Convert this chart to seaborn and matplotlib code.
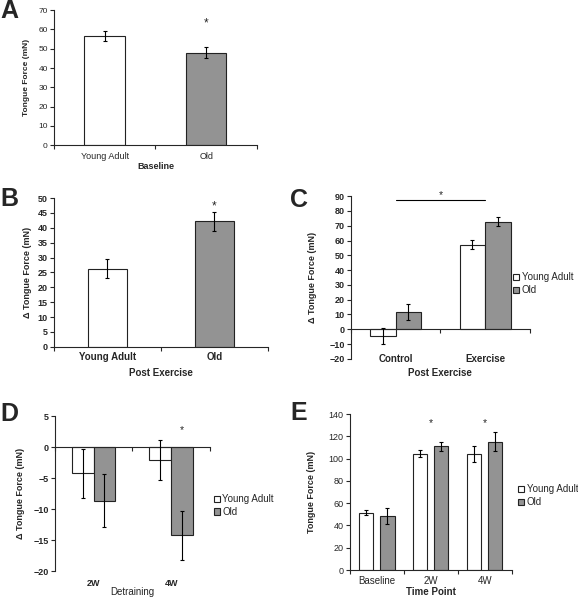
import matplotlib
matplotlib.use("Agg")
import matplotlib.pyplot as plt
import numpy as np
import pandas as pd
import seaborn as sns

# data
groups = ["Young Adult", "Old"]

base_force = [56.5, 48.0]
base_err = [2.7, 2.8]

post_delta = [26.3, 42.2]
post_err = [3.1, 3.2]

cond_cats = ["Control", "Exercise"]
cond_young = [-4.5, 57.3]
cond_old = [11.5, 72.7]
cond_young_err = [5.5, 3.0]
cond_old_err = [5.5, 3.0]

detr_cats = ["2W", "4W"]
detr_young = [-4.2, -2.0]
detr_old = [-8.6, -14.2]
detr_young_err = [4.0, 3.2]
detr_old_err = [4.3, 4.0]

time_cats = ["Baseline", "2W", "4W"]
time_young = [51.5, 104.5, 104.0]
time_old = [48.5, 111.0, 115.0]
time_young_err = [2.5, 3.0, 7.0]
time_old_err = [7.0, 4.0, 8.5]

sns.set_style("ticks")
plt.rcParams["font.family"] = ["Liberation Sans", "DejaVu Sans"]
plt.rcParams["axes.linewidth"] = 0.8

pal = {"Young Adult": "white", "Old": "#939393"}
EDGE = "#222222"


def long_df(cats, young, old):
    return pd.DataFrame({
        "cat": list(cats) * 2,
        "group": ["Young Adult"] * len(cats) + ["Old"] * len(cats),
        "val": list(young) + list(old),
    })


def add_err(ax, errs):
    for bar, e in zip(ax.patches, errs):
        x = bar.get_x() + bar.get_width() / 2
        y = bar.get_y() + bar.get_height()
        ax.errorbar(x, y, yerr=e, color="black", lw=0.8, capsize=1.5,
                    capthick=0.8, zorder=5)


def excel_axis(ax, n, labels=True, fs=6, weight="normal", pad=5):
    sns.despine(ax=ax)
    ax.set_xlim(-0.5, n - 0.5)
    ax.set_xticks(np.arange(n + 1) - 0.5)
    ax.set_xticklabels([])
    ax.tick_params(axis="x", which="major", length=3, width=0.8, direction="out")
    ax.tick_params(axis="y", length=3, width=0.8, direction="out", pad=1.5)
    if labels:
        ax.set_xticks(np.arange(n), minor=True)
        ax.tick_params(axis="x", which="minor", length=0, pad=pad)
        for t in ax.get_xticklabels(minor=True):
            t.set_fontsize(fs)
            t.set_fontweight(weight)


def legend_at(ax, x, y):
    h, l = ax.get_legend_handles_labels()
    ax.legend(h, l, loc="center left", bbox_to_anchor=(x, y),
              bbox_transform=fig.transFigure, frameon=False, fontsize=7,
              handlelength=0.6, handleheight=0.6, handletextpad=0.25,
              labelspacing=0.3, borderpad=0, borderaxespad=0)


fig = plt.figure(figsize=(5.78, 6.0), dpi=100)

# ---- A
axA = fig.add_axes([0.0934, 0.758, 0.351, 0.225])
dfA = pd.DataFrame({"group": groups, "val": base_force})
sns.barplot(data=dfA, x="group", y="val", hue="group", palette=pal,
            width=0.4, edgecolor=EDGE, linewidth=0.8, legend=False, ax=axA)
add_err(axA, base_err)
excel_axis(axA, 2, fs=6.5)
axA.set_xticklabels(groups, minor=True, fontsize=6.5)
axA.set_ylim(0, 70)
axA.set_yticks(range(0, 71, 10))
axA.tick_params(axis="y", labelsize=6)
axA.set_ylabel("Tongue Force (mN)", fontsize=6, fontweight="bold")
axA.yaxis.set_label_coords(-0.118, 0.5)
axA.set_xlabel("Baseline", fontsize=6.5, fontweight="bold", labelpad=0.5)
axA.text(1, 63, "*", ha="center", va="center", fontsize=8.5)

# ---- B
axB = fig.add_axes([0.0934, 0.422, 0.370, 0.248])
dfB = pd.DataFrame({"group": groups, "val": post_delta})
sns.barplot(data=dfB, x="group", y="val", hue="group", palette=pal,
            width=0.36, edgecolor=EDGE, linewidth=0.8, legend=False, ax=axB)
add_err(axB, post_err)
excel_axis(axB, 2, fs=7, weight="bold", pad=4)
axB.set_xticklabels(groups, minor=True, fontsize=7, fontweight="bold")
axB.set_ylim(0, 50)
axB.set_yticks(range(0, 51, 5))
axB.tick_params(axis="y", labelsize=6.5)
for t in axB.get_yticklabels():
    t.set_fontweight("bold")
axB.set_ylabel("Δ Tongue Force (mN)", fontsize=6.5, fontweight="bold")
axB.yaxis.set_label_coords(-0.103, 0.5)
axB.set_xlabel("Post Exercise", fontsize=7, fontweight="bold", labelpad=4)
axB.text(1, 47.2, "*", ha="center", va="center", fontsize=8.5)

# ---- C
axC = fig.add_axes([0.607, 0.402, 0.310, 0.271])
dfC = long_df(cond_cats, cond_young, cond_old)
sns.barplot(data=dfC, x="cat", y="val", hue="group", palette=pal,
            width=0.57, edgecolor=EDGE, linewidth=0.8, ax=axC)
add_err(axC, cond_young_err + cond_old_err)
excel_axis(axC, 2, labels=False)
axC.spines["bottom"].set_position(("data", 0))
axC.set_ylim(-20, 90)
axC.set_yticks(range(-20, 91, 10))
axC.tick_params(axis="y", labelsize=6.5)
for t in axC.get_yticklabels():
    t.set_fontweight("bold")
axC.set_xlabel("")
axC.set_ylabel("Δ Tongue Force (mN)", fontsize=6.5, fontweight="bold")
axC.yaxis.set_label_coords(-0.19, 0.5)
for i, c in enumerate(cond_cats):
    axC.text(i, 0.0, c, transform=axC.get_xaxis_transform(), ha="center",
             va="center", fontsize=7, fontweight="bold")
axC.text(0.5, -0.09, "Post Exercise", transform=axC.transAxes, ha="center",
         va="center", fontsize=7, fontweight="bold")
axC.plot([0, 1], [87.5, 87.5], color="black", lw=0.8)
axC.text(0.5, 91, "*", ha="center", va="center", fontsize=7.5)
legend_at(axC, 0.888, 0.527)

# ---- D
axD = fig.add_axes([0.095, 0.048, 0.268, 0.258])
dfD = long_df(detr_cats, detr_young, detr_old)
sns.barplot(data=dfD, x="cat", y="val", hue="group", palette=pal,
            width=0.56, edgecolor=EDGE, linewidth=0.8, ax=axD)
add_err(axD, detr_young_err + detr_old_err)
excel_axis(axD, 2, labels=False)
axD.spines["bottom"].set_position(("data", 0))
axD.set_ylim(-20, 5)
axD.set_yticks(range(-20, 6, 5))
axD.tick_params(axis="y", labelsize=6.5)
for t in axD.get_yticklabels():
    t.set_fontweight("bold")
axD.set_xlabel("")
axD.set_ylabel("Δ Tongue Force (mN)", fontsize=6.5, fontweight="bold")
axD.yaxis.set_label_coords(-0.19, 0.5)
for i, c in enumerate(detr_cats):
    axD.text(i, -0.077, c, transform=axD.get_xaxis_transform(), ha="center",
             va="center", fontsize=6.5, fontweight="bold")
axD.text(0.5, -0.135, "Detraining", transform=axD.transAxes, ha="center",
         va="center", fontsize=7)
axD.text(1.14, 2.8, "*", ha="center", va="center", fontsize=7.5)
legend_at(axD, 0.37, 0.1575)

# ---- E
axE = fig.add_axes([0.6055, 0.05, 0.280, 0.26])
dfE = long_df(time_cats, time_young, time_old)
sns.barplot(data=dfE, x="cat", y="val", hue="group", palette=pal,
            width=0.78, gap=0.33, edgecolor=EDGE, linewidth=0.8, ax=axE)
add_err(axE, time_young_err + time_old_err)
excel_axis(axE, 3, fs=7, pad=4)
axE.set_xticklabels(time_cats, minor=True, fontsize=7)
axE.set_ylim(0, 140)
axE.set_yticks(range(0, 141, 20))
axE.tick_params(axis="y", labelsize=6.5)
axE.set_ylabel("Tongue Force (mN)", fontsize=6.5, fontweight="bold")
axE.yaxis.set_label_coords(-0.21, 0.5)
axE.set_xlabel("Time Point", fontsize=7, fontweight="bold", labelpad=1)
for i in (1, 2):
    axE.text(i, 132, "*", ha="center", va="center", fontsize=7.5)
legend_at(axE, 0.897, 0.174)

# panel letters
for lab, x, y in [("A", 0.0, 0.9825), ("B", 0.0, 0.668), ("C", 0.502, 0.667),
                  ("D", 0.0, 0.31), ("E", 0.502, 0.312)]:
    fig.text(x, y, lab, fontsize=18, fontweight="bold", ha="left", va="center")

fig.savefig("out.png", dpi=100)
